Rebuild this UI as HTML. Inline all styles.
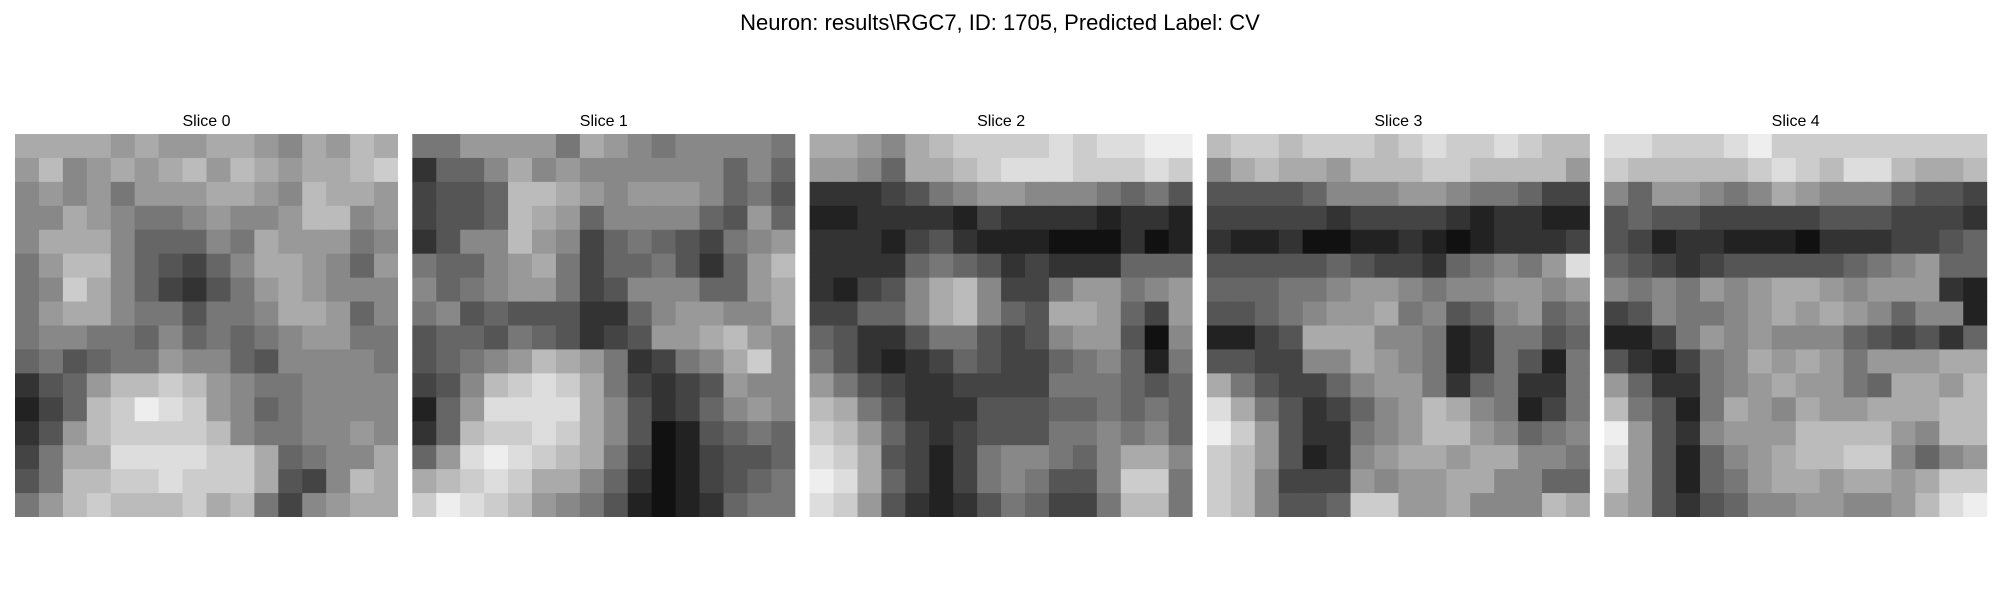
<!DOCTYPE html>
<html><head><meta charset="utf-8"><style>
html,body{margin:0;padding:0;background:#fff;}
svg{display:block;}
</style></head><body>
<svg id="fig" width="2000" height="600" viewBox="0 0 2000 600" xmlns="http://www.w3.org/2000/svg">
<rect width="2000" height="600" fill="#fff"/>
<text x="1000" y="30" text-anchor="middle" font-family="Liberation Sans, DejaVu Sans, sans-serif" font-size="22" fill="#000">Neuron: results\RGC7, ID: 1705, Predicted Label: CV</text>
<g id="panels"></g>
</svg>
<script>
const sliceTitles = ["Slice 0","Slice 1","Slice 2","Slice 3","Slice 4"];
// Downsampled 16x16 intensity grids (hex 0=black .. f=white), one string per row
const slice0 = ["aaaa9a99aa98a9ba","9b89a9ab9ba9aabc","89897999aa98baa9","88a987789889bb89","8aaa866687a99978","79bb865468aa9869","78ca8643579a9888","79aa8775778aa968","7887768676789977","6756779886588887","3569bbcb98778888","246bcedc98678888","359bccccb8778898","47aaddddcca6788a","57bbccdccca548ba","79bcbbbcab7489aa"];
const slice1 = ["7799997a98788887","3668a89888888686","4556bba989998675","4556ba9688886596","3588b98467654789","76689a746675369b","867899745888669a","785655533689988a","566576534599ab98","56789ba973478ac8","458bcdca74345988","269dddda85346898","36bccdca85125676","69dedcba74124556","abcdcaa863124567","cedcb98752123677"];
const slice2 = ["aa98abccccdcddee","9986aabcdddcccdc","3334578998887675","2233332433332332","3332453222111312","3333676534333666","32458ab844799789","44668ab865aa9649","6533577545899518","7532346544678627","9754334444777656","ba75333555667676","cb96434555778786","dca5424788768aa8","eda6424787558cc7","dc95323576447bb7"];
const slice3 = ["bccbcccbcdccdcbb","8abaa9bbbccbbbb9","5555688899877644","4444434444323322","3223112232123334","555556544367879d","6667789987889989","5567899a78568967","2245aaa887237756","554488a987237527","a754468997367337","da7534689ba87247","ec9533789bb98678","cb952389aa9aa887","cb84449899aa8866","cb8556cc99a888ba"];
const slice4 = ["ddcccdeccccccccc","cbbbbbcdcbddbaab","8699878a98886554","5655444445554443","5423322213334456","6543455555678966","8787989aa9899932","4587789a9a986882","2247989888654536","532478a9a97999aa","9633789a9976aa9b","b7527a98a99aaabb","e9538999bbbb98bb","d952689abbcc8689","c952679aa9aa9acc","a953568899889bde"];
const slices = [slice0, slice1, slice2, slice3, slice4];

const NS = "http://www.w3.org/2000/svg";
const panelX = x => 15 + x * 397.3;
const panelY = 134, panelSize = 383;
const g = document.getElementById("panels");
slices.forEach((grid, si) => {
  const pg = document.createElementNS(NS, "g");
  
  
  const rows = grid.length;
  const x0 = panelX(si);
  const cell = panelSize / rows;
  grid.forEach((row, r) => {
    const cols = 16;
    const cw = panelSize / cols;
    for (let c = 0; c < cols; c++) {
      const v = parseInt(row[c], 16);
      const gray = Math.round((isNaN(v) ? 8 : v) * 17);
      const rect = document.createElementNS(NS, "rect");
      rect.setAttribute("x", (x0 + c * cw).toFixed(2));
      rect.setAttribute("y", (panelY + r * cell).toFixed(2));
      rect.setAttribute("width", (c === cols - 1 ? cw : cw + 0.6).toFixed(2));
      rect.setAttribute("height", (r === rows - 1 ? cell : cell + 0.6).toFixed(2));
      rect.setAttribute("fill", `rgb(${gray},${gray},${gray})`);
      
      
      pg.appendChild(rect);
    }
  });
  g.appendChild(pg);
  const t = document.createElementNS(NS, "text");
  t.setAttribute("x", (x0 + panelSize / 2).toFixed(1));
  t.setAttribute("y", "126");
  t.setAttribute("text-anchor", "middle");
  t.setAttribute("font-family", "Liberation Sans, DejaVu Sans, sans-serif");
  t.setAttribute("font-size", "16");
  
  
  t.textContent = sliceTitles[si];
  g.appendChild(t);
});
</script>
</body></html>
